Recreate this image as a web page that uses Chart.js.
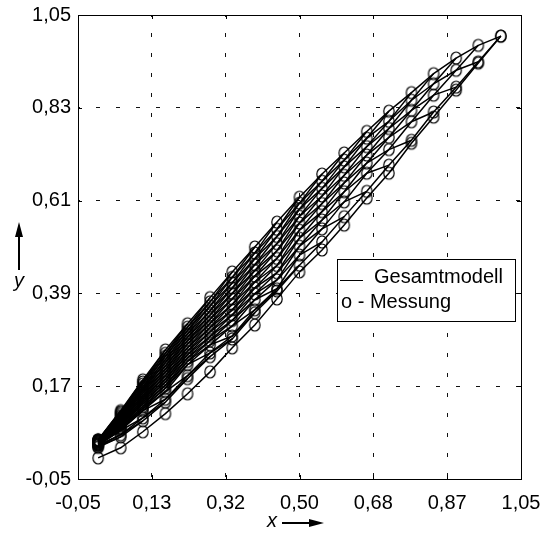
<!DOCTYPE html>
<html>
<head>
<meta charset="utf-8">
<script src="https://cdn.jsdelivr.net/npm/chart.js@4.4.0/dist/chart.umd.min.js"></script>
<style>
  html, body { margin: 0; padding: 0; background: #fff; }
  #wrap { width: 541px; height: 538px; }
</style>
</head>
<body>
<div id="wrap"><canvas id="c" width="541" height="538"></canvas></div>
<script>
// Composition levels on the x axis (steps of 1/18)
const xLevels = [0.000, 0.056, 0.111, 0.167, 0.222, 0.278, 0.333, 0.389, 0.444, 0.500,
                 0.556, 0.611, 0.667, 0.722, 0.778, 0.833, 0.889, 0.944, 1.000];

// Measured y values at each x level, listed from the lowest to the highest point
const y_x000 = [0.025, 0.027, 0.030, 0.031, 0.032, 0.033, 0.034, 0.035, 0.036, 0.037, 0.038, 0.039, 0.040, 0.040, 0.041, 0.041, 0.042, 0.042, 0.043];
const y_x056 = [0.050, 0.055, 0.065, 0.068, 0.071, 0.074, 0.078, 0.081, 0.084, 0.087, 0.090, 0.093, 0.096, 0.099, 0.103, 0.106, 0.109, 0.112];
const y_x111 = [0.088, 0.095, 0.112, 0.117, 0.122, 0.128, 0.133, 0.138, 0.143, 0.148, 0.154, 0.159, 0.164, 0.169, 0.175, 0.180, 0.185];
const y_x167 = [0.132, 0.139, 0.157, 0.165, 0.172, 0.180, 0.187, 0.195, 0.203, 0.210, 0.218, 0.226, 0.233, 0.241, 0.248, 0.256];
const y_x222 = [0.188, 0.195, 0.221, 0.229, 0.237, 0.245, 0.253, 0.261, 0.270, 0.278, 0.286, 0.294, 0.302, 0.310, 0.318];
const y_x278 = [0.240, 0.249, 0.268, 0.278, 0.288, 0.299, 0.309, 0.319, 0.329, 0.339, 0.349, 0.360, 0.370, 0.380];
const y_x333 = [0.282, 0.289, 0.313, 0.326, 0.339, 0.351, 0.364, 0.377, 0.390, 0.403, 0.415, 0.428, 0.441];
const y_x389 = [0.344, 0.351, 0.375, 0.389, 0.403, 0.417, 0.431, 0.444, 0.458, 0.472, 0.486, 0.500];
const y_x444 = [0.396, 0.401, 0.422, 0.439, 0.456, 0.473, 0.491, 0.508, 0.525, 0.542, 0.559];
const y_x500 = [0.457, 0.481, 0.502, 0.521, 0.540, 0.557, 0.573, 0.590, 0.604, 0.618];
const y_x556 = [0.512, 0.543, 0.564, 0.584, 0.603, 0.621, 0.639, 0.656, 0.673];
const y_x611 = [0.572, 0.607, 0.631, 0.652, 0.670, 0.690, 0.706, 0.723];
const y_x667 = [0.632, 0.675, 0.699, 0.718, 0.738, 0.758, 0.774];
const y_x722 = [0.694, 0.731, 0.760, 0.781, 0.798, 0.822];
const y_x778 = [0.753, 0.797, 0.824, 0.848, 0.866];
const y_x833 = [0.820, 0.860, 0.887, 0.911];
const y_x889 = [0.879, 0.919, 0.948];
const y_x944 = [0.939, 0.978];
const y_x1000 = [1.000];

// Lowest boundary curve
const yBoundary = [0.000, 0.024, 0.062, 0.105, 0.152, 0.204, 0.261, 0.315, 0.377, 0.441,
                   0.493, 0.552, 0.616, 0.675, 0.746, 0.808, 0.872, 0.936, 1.000];

// Axis ranges and tick labels
const xRange = [-0.05, 1.05];
const yRange = [-0.05, 1.05];
const xTickLabels = ['-0,05', '0,13', '0,32', '0,50', '0,68', '0,87', '1,05'];
const yTickLabels = ['-0,05', '0,17', '0,39', '0,61', '0,83', '1,05'];

const legendLine1 = 'Gesamtmodell';
const legendLine2 = 'o - Messung';

const columns = [y_x000, y_x056, y_x111, y_x167, y_x222, y_x278, y_x333, y_x389, y_x444, y_x500,
                 y_x556, y_x611, y_x667, y_x722, y_x778, y_x833, y_x889, y_x944, y_x1000];

const FONT = '"Liberation Sans", Arial, Helvetica, sans-serif';
const LINE_W = 1.5;
const MARKER_W = 1.2;

function tickValues(range, n) {
  const out = [];
  for (let i = 0; i < n; i++) out.push(range[0] + i * (range[1] - range[0]) / (n - 1));
  return out;
}
const xTickValues = tickValues(xRange, xTickLabels.length);
const yTickValues = tickValues(yRange, yTickLabels.length);

// Model lines: one family keeps the index from the bottom fixed,
// the other keeps the index from the top fixed.
const lineSets = [];
for (let j = 0; j < 18; j++) {
  const pts = [];
  for (let k = 0; k < columns.length; k++) {
    if (j < columns[k].length) pts.push({ x: xLevels[k], y: columns[k][j] });
  }
  if (pts.length > 1) lineSets.push(pts);
}
for (let m = 0; m < 18; m++) {
  const pts = [];
  for (let k = 0; k < columns.length; k++) {
    const idx = columns[k].length - 1 - m;
    if (idx >= 0) pts.push({ x: xLevels[k], y: columns[k][idx] });
  }
  if (pts.length > 1) lineSets.push(pts);
}
lineSets.push(yBoundary.map((v, k) => ({ x: xLevels[k], y: v })));

const measured = [];
columns.forEach((col, k) => col.forEach(v => measured.push({ x: xLevels[k], y: v })));
yBoundary.forEach((v, k) => measured.push({ x: xLevels[k], y: v }));

// Open, slightly tall ellipse used as the measurement marker
const marker = document.createElement('canvas');
marker.width = 14; marker.height = 16;
(function () {
  const m = marker.getContext('2d');
  m.strokeStyle = '#000';
  m.lineWidth = MARKER_W;
  m.beginPath();
  m.ellipse(7, 8, 5.2, 6, 0, 0, Math.PI * 2);
  m.stroke();
})();

const datasets = lineSets.map(pts => ({
  label: legendLine1,
  data: pts,
  showLine: true,
  borderColor: '#000',
  borderWidth: LINE_W,
  pointRadius: 0,
  pointHoverRadius: 0,
  fill: false,
  tension: 0
}));
datasets.push({
  label: legendLine2,
  data: measured,
  showLine: false,
  pointStyle: marker,
  pointRadius: 6
});

const decorPlugin = {
  id: 'decor',
  afterDraw(chart) {
    const { ctx, chartArea: a, scales } = chart;
    ctx.save();
    ctx.strokeStyle = '#000';
    ctx.lineWidth = 1;
    ctx.setLineDash([]);
    // frame
    ctx.strokeRect(Math.round(a.left) + 0.5, Math.round(a.top) + 0.5,
                   Math.round(a.right - a.left), Math.round(a.bottom - a.top));
    // inward tick marks
    ctx.beginPath();
    xTickValues.forEach(v => {
      const px = Math.round(scales.x.getPixelForValue(v)) + 0.5;
      ctx.moveTo(px, a.top); ctx.lineTo(px, a.top + 4);
      ctx.moveTo(px, a.bottom); ctx.lineTo(px, a.bottom - 4);
    });
    yTickValues.forEach(v => {
      const py = Math.round(scales.y.getPixelForValue(v)) + 0.5;
      ctx.moveTo(a.left, py); ctx.lineTo(a.left + 4, py);
      ctx.moveTo(a.right, py); ctx.lineTo(a.right - 4, py);
    });
    ctx.stroke();

    // legend box
    const bx = Math.round(a.right) - 184, by = 259, bw = 178, bh = 62;
    ctx.fillStyle = '#fff';
    ctx.fillRect(bx, by, bw, bh);
    ctx.strokeRect(bx + 0.5, by + 0.5, bw, bh);
    ctx.beginPath();
    ctx.moveTo(bx + 3, by + 21.5);
    ctx.lineTo(bx + 26, by + 21.5);
    ctx.stroke();
    ctx.fillStyle = '#000';
    ctx.font = '20px ' + FONT;
    ctx.textAlign = 'left';
    ctx.textBaseline = 'alphabetic';
    ctx.fillText(legendLine1, bx + 37, by + 24);
    ctx.fillText(legendLine2, bx + 4, by + 49);

    // axis titles with arrows
    ctx.font = 'italic 20px ' + FONT;
    ctx.textAlign = 'center';
    ctx.fillText('y', 19, 287);
    ctx.fillText('x', 272, 527);
    ctx.lineWidth = 2;
    ctx.beginPath();
    ctx.moveTo(19, 270); ctx.lineTo(19, 234);
    ctx.moveTo(282, 523); ctx.lineTo(312, 523);
    ctx.stroke();
    ctx.beginPath();
    ctx.moveTo(19, 222); ctx.lineTo(15, 237); ctx.lineTo(23, 237); ctx.closePath();
    ctx.fill();
    ctx.beginPath();
    ctx.moveTo(324, 523); ctx.lineTo(309, 519); ctx.lineTo(309, 527); ctx.closePath();
    ctx.fill();
    ctx.restore();
  }
};

const gridOpts = { color: '#111', lineWidth: 1, drawTicks: false };
const borderOpts = { display: false, dash: [4, 16], dashOffset: 2 };

new Chart(document.getElementById('c'), {
  type: 'scatter',
  data: { datasets },
  options: {
    responsive: false,
    animation: false,
    devicePixelRatio: 1,
    layout: { padding: { top: 15, right: 20, left: 0, bottom: 0 } },
    plugins: { legend: { display: false }, tooltip: { enabled: false } },
    events: [],
    scales: {
      x: {
        type: 'linear',
        min: xRange[0], max: xRange[1],
        afterFit(s) { s.height = 59; s.paddingLeft = 0; s.paddingRight = 0; },
        afterBuildTicks(s) { s.ticks = xTickValues.map(v => ({ value: v })); },
        grid: gridOpts,
        border: borderOpts,
        ticks: {
          autoSkip: false, maxRotation: 0, padding: 12,
          color: '#000', font: { family: FONT, size: 20 },
          callback: (v, i) => xTickLabels[i]
        }
      },
      y: {
        type: 'linear',
        min: yRange[0], max: yRange[1],
        afterFit(s) { s.width = 78; s.paddingTop = 0; s.paddingBottom = 0; },
        afterBuildTicks(s) { s.ticks = yTickValues.map(v => ({ value: v })); },
        grid: gridOpts,
        border: borderOpts,
        ticks: {
          autoSkip: false, padding: 7,
          color: '#000', font: { family: FONT, size: 20 },
          callback: (v, i) => yTickLabels[i]
        }
      }
    }
  },
  plugins: [decorPlugin]
});
</script>
</body>
</html>
